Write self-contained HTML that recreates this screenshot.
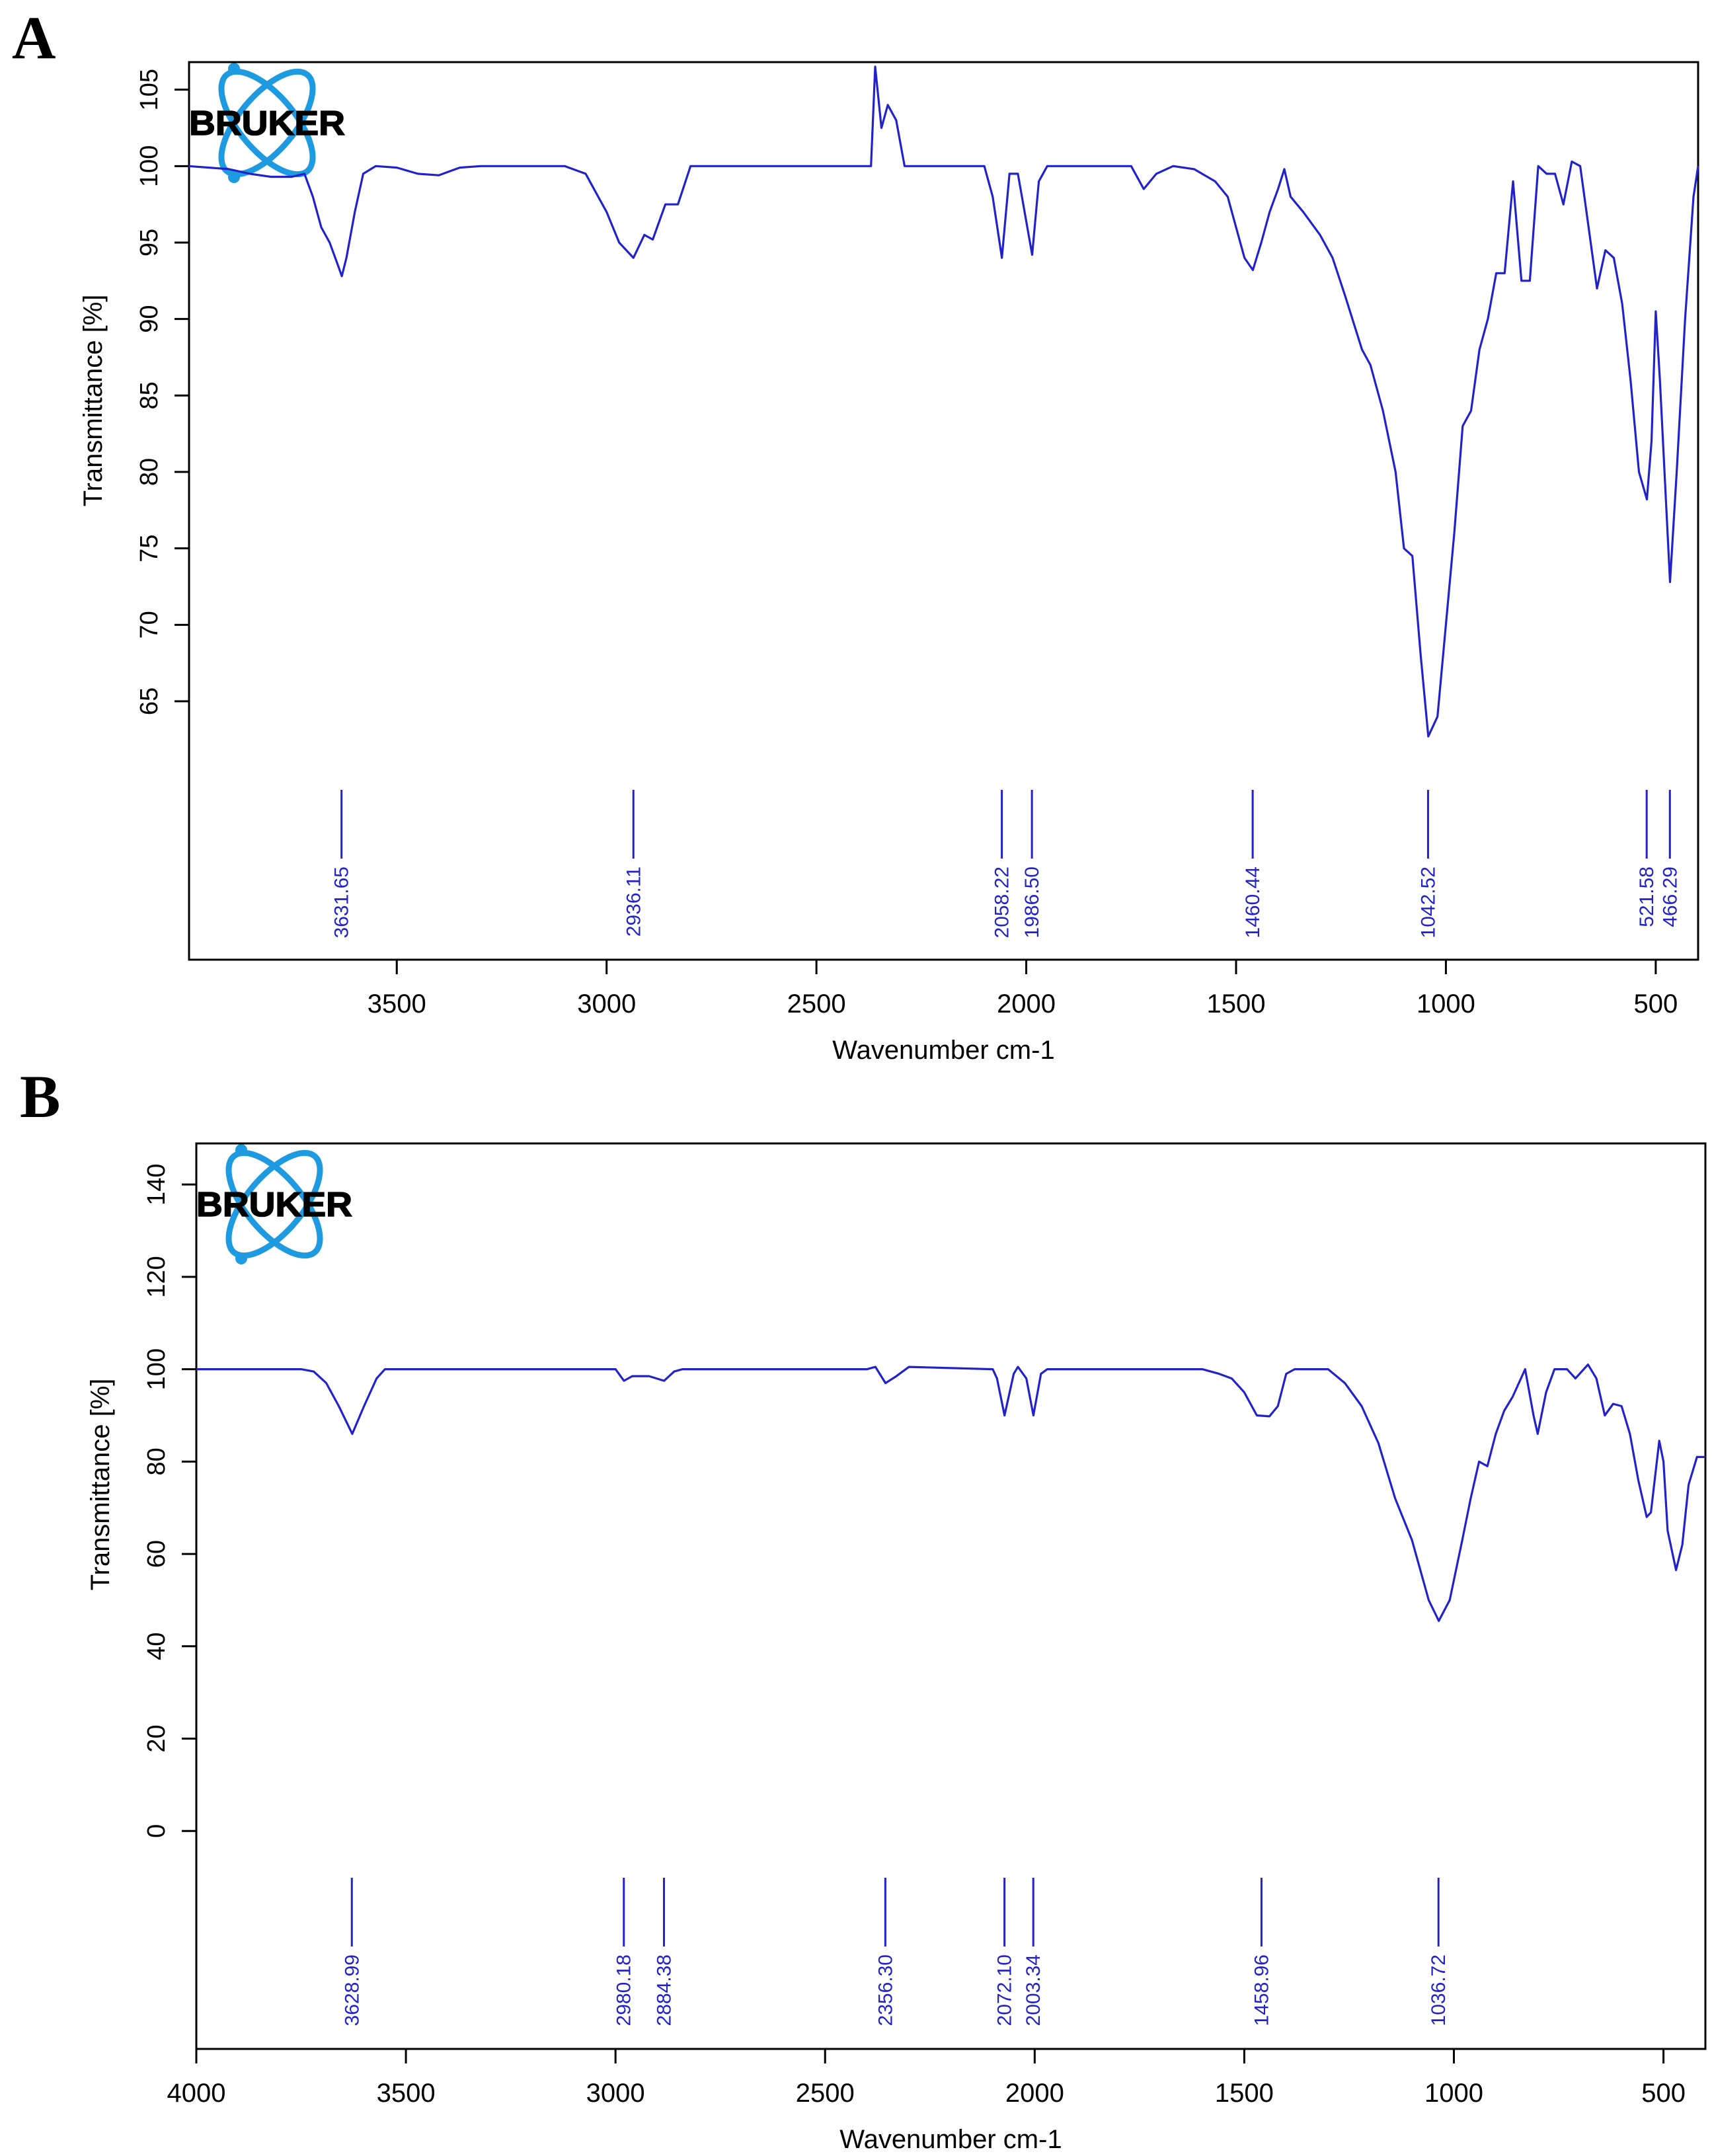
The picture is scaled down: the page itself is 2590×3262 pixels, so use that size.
<!DOCTYPE html>
<html><head><meta charset="utf-8"><style>
html,body{margin:0;padding:0;background:#fff}
svg{display:block}
text{font-family:"Liberation Sans",sans-serif}
</style></head><body>
<svg id="s" width="2590" height="3262" viewBox="0 0 2590 3262" xmlns="http://www.w3.org/2000/svg">
<text x="18" y="88" style="font-family:'Liberation Serif',serif;font-weight:bold;font-size:92px">A</text>
<text x="30" y="1690" style="font-family:'Liberation Serif',serif;font-weight:bold;font-size:92px">B</text>
</svg>
<script>
// Panel A data
const aWn=[3996,3900,3850,3800,3750,3720,3700,3680,3660,3640,3631,3620,3600,3580,3550,3500,3450,3400,3350,3300,3100,3050,3020,3000,2970,2936,2910,2890,2860,2830,2800,2400,2370,2360,2345,2330,2310,2290,2100,2080,2058,2040,2020,1986,1970,1950,1750,1720,1690,1650,1600,1550,1520,1500,1480,1460,1440,1420,1400,1385,1370,1340,1300,1270,1240,1200,1180,1150,1120,1100,1080,1060,1042,1020,1000,980,960,940,920,900,880,860,840,820,800,780,760,740,720,700,680,660,640,620,600,580,560,540,521,510,500,490,466,450,430,410,399];
const aT=[100,99.8,99.5,99.3,99.3,99.5,98,96,95,93.5,92.8,94,97,99.5,100,99.9,99.5,99.4,99.9,100,100,99.5,98,97,95,94,95.5,95.2,97.5,97.5,100,100,100,106.5,102.5,104,103,100,100,98,94,99.5,99.5,94.2,99,100,100,98.5,99.5,100,99.8,99,98,96,94,93.2,95,97,98.5,99.8,98,97,95.5,94,91.5,88,87,84,80,75,74.5,68,62.7,64,70,76,83,84,88,90,93,93,99,92.5,92.5,100,99.5,99.5,97.5,100.3,100,96,92,94.5,94,91,86,80,78.2,82,90.5,86,72.8,80,90,98,100];
const aPeaks=["3631.65","2936.11","2058.22","1986.50","1460.44","1042.52","521.58","466.29"];
const aYTicks=[65,70,75,80,85,90,95,100,105];
const aXTicks=[3500,3000,2500,2000,1500,1000,500];
// Panel B data
const bWn=[4000,3750,3720,3690,3660,3628,3600,3570,3550,3000,2980,2960,2920,2884,2860,2840,2400,2380,2356,2330,2300,2100,2090,2072,2050,2040,2020,2003,1985,1970,1600,1560,1530,1500,1470,1440,1420,1400,1380,1300,1260,1220,1180,1140,1100,1060,1036,1010,980,960,940,920,900,880,860,830,810,800,780,760,730,710,680,660,640,620,600,580,560,540,530,510,500,490,470,455,440,420,400];
const bT=[100,100,99.5,97,92,86,92,98,100,100,97.5,98.5,98.5,97.5,99.5,100,100,100.5,97,98.5,100.5,100,98,90,99,100.5,98,90,99,100,100,99,98,95,90,89.8,92,99,100,100,97,92,84,72,63,50,45.5,50,63,72,80,79,86,91,94,100,90,86,95,100,100,98,101,98,90,92.5,92,86,76,68,69,84.5,80,65,56.5,62,75,81,81];
const bPeaks=["3628.99","2980.18","2884.38","2356.30","2072.10","2003.34","1458.96","1036.72"];
const bYTicks=[0,20,40,60,80,100,120,140];
const bXTicks=[4000,3500,3000,2500,2000,1500,1000,500];

const NS="http://www.w3.org/2000/svg";
const svg=document.getElementById('s');
function mk(tag,attrs,parent,txt){const e=document.createElementNS(NS,tag);for(const k in attrs)e.setAttribute(k,attrs[k]);if(txt!==undefined)e.textContent=txt;(parent||svg).appendChild(e);return e;}

function panel(cfg){
  const g=mk('g',{});
  
  
  const X=w=>cfg.L+(cfg.w0-w)/(cfg.w0-cfg.w1)*(cfg.R-cfg.L);
  const Y=t=>cfg.B-(t-cfg.t0)/(cfg.t1-cfg.t0)*(cfg.B-cfg.T);
  const lg=mk('g',{},g);
  
  
  const cx=cfg.L+118,cy=cfg.T+92;
  mk('ellipse',{cx:cx,cy:cy,rx:95,ry:42,fill:'none',stroke:'#1e9be0','stroke-width':9,transform:`rotate(50 ${cx} ${cy})`},lg);
  mk('ellipse',{cx:cx,cy:cy,rx:95,ry:42,fill:'none',stroke:'#1e9be0','stroke-width':9,transform:`rotate(-50 ${cx} ${cy})`},lg);
  mk('circle',{cx:cx-50,cy:cy-82,r:9,fill:'#1e9be0'},lg);
  mk('circle',{cx:cx-50,cy:cy+82,r:9,fill:'#1e9be0'},lg);
  mk('text',{x:cx,y:cy+18,'text-anchor':'middle','font-size':52,'font-weight':'bold',fill:'#000',stroke:'#000','stroke-width':1.5,textLength:236,lengthAdjust:'spacingAndGlyphs'},lg,'BRUKER');
  const box=mk('rect',{x:cfg.L,y:cfg.T,width:cfg.R-cfg.L,height:cfg.B-cfg.T,fill:'none',stroke:'#000','stroke-width':3},g);
  
  
  cfg.yt.forEach(v=>{
    const y=Y(v);
    const tk=mk('line',{x1:cfg.L-22,x2:cfg.L,y1:y,y2:y,stroke:'#000','stroke-width':3},g);
    
    
    const t=mk('text',{x:cfg.L-48,y:y,'text-anchor':'middle','font-size':38,transform:`rotate(-90 ${cfg.L-48} ${y})`},g,String(v));
    
    
  });
  cfg.xt.forEach(v=>{
    const x=X(v);
    const tk=mk('line',{x1:x,x2:x,y1:cfg.B,y2:cfg.B+22,stroke:'#000','stroke-width':3},g);
    
    
    const t=mk('text',{x:x,y:cfg.B+80,'text-anchor':'middle','font-size':40},g,String(v));
    
    
  });
  const xt=mk('text',{x:(cfg.L+cfg.R)/2,y:cfg.B+150,'text-anchor':'middle','font-size':40},g,'Wavenumber cm-1');
  
  
  const ytx=cfg.L-132,yty=cfg.ytitleY;
  const yt=mk('text',{x:ytx,y:yty,'text-anchor':'middle','font-size':40,transform:`rotate(-90 ${ytx} ${yty})`},g,'Transmittance [%]');
  
  
  let d='';
  cfg.wn.forEach((w,i)=>{d+=(i?'L':'M')+X(w).toFixed(1)+' '+Y(cfg.tv[i]).toFixed(1);});
  const p=mk('path',{d:d,fill:'none',stroke:'#2222cc','stroke-width':3.2,'stroke-linejoin':'round'},g);
  
  
  cfg.pk.forEach(s=>{
    const x=X(parseFloat(s));
    const l=mk('line',{x1:x,x2:x,y1:cfg.pl0,y2:cfg.pl1,stroke:'#2222cc','stroke-width':3},g);
    
    
    const ty=cfg.pl1+12;
    const t=mk('text',{x:x,y:ty,'text-anchor':'end','font-size':30,fill:'#2222cc',transform:`rotate(-90 ${x} ${ty}) translate(0 10)`},g,s);
    
    
  });
}
panel({name:'panel-a-chart',L:286,R:2569,T:94,B:1452,w0:3995,w1:399,t0:48.1,t1:106.8,yt:aYTicks,xt:aXTicks,wn:aWn,tv:aT,pk:aPeaks,pl0:1195,pl1:1299,ytitleY:606});
panel({name:'panel-b-chart',L:297,R:2580,T:1730,B:3100,w0:4000,w1:400,t0:-47.2,t1:148.9,yt:bYTicks,xt:bXTicks,wn:bWn,tv:bT,pk:bPeaks,pl0:2841,pl1:2945,ytitleY:2246});
</script>
</body></html>
